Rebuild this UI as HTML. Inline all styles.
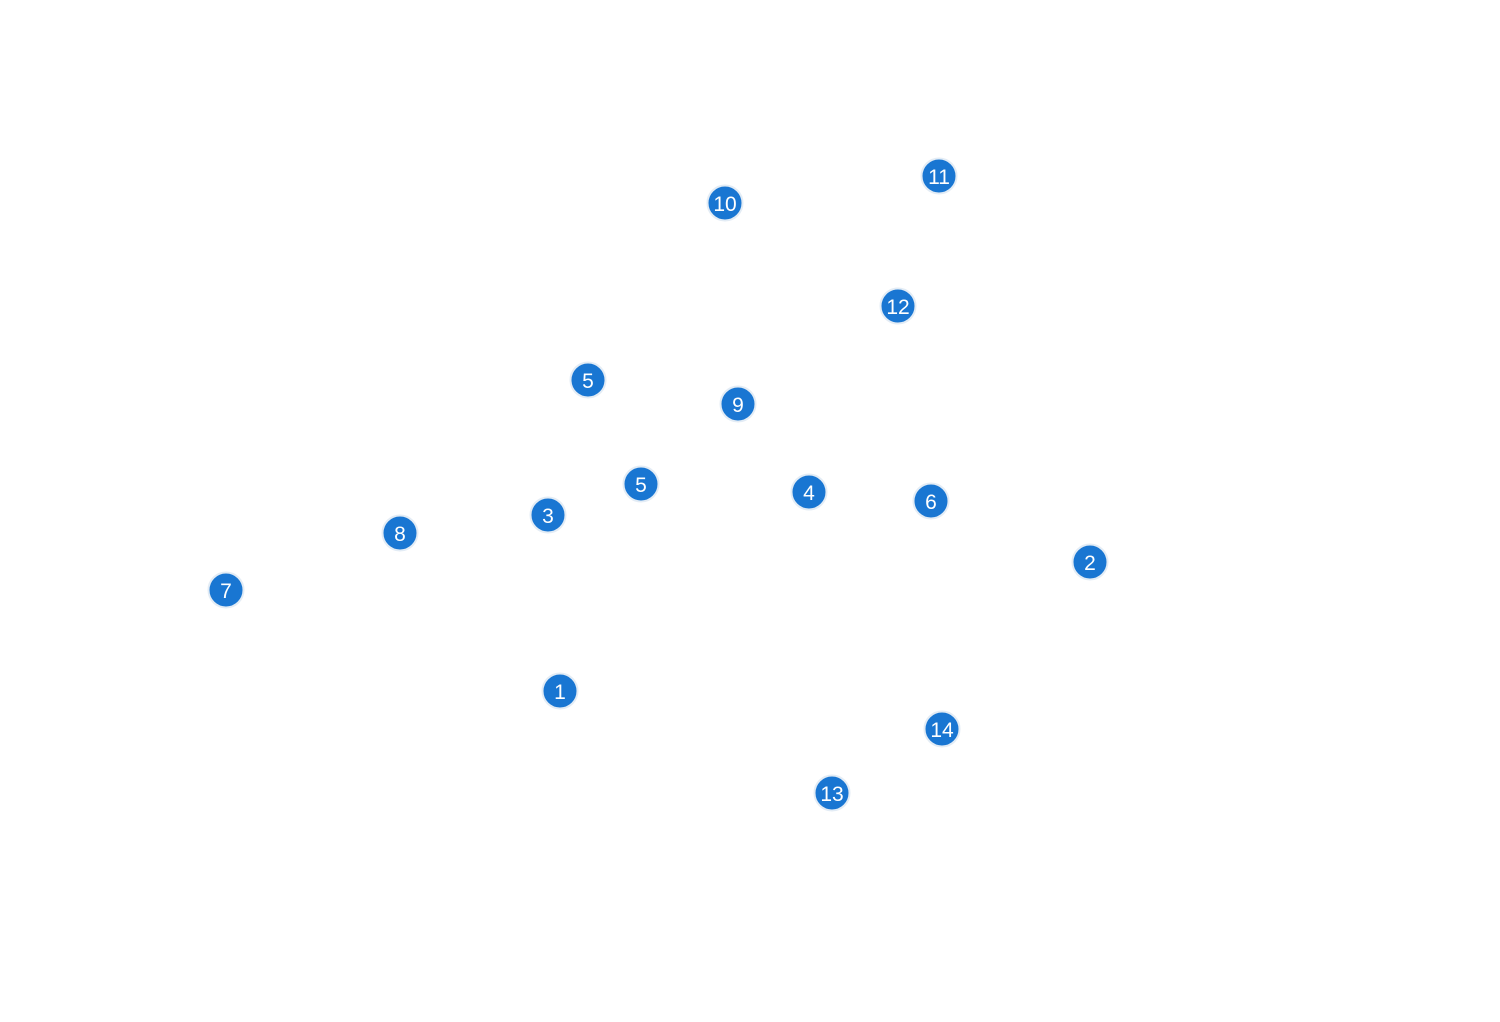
<!DOCTYPE html>
<html><head><style>html,body{margin:0;padding:0;background:#fff;}</style></head>
<body>
<svg width="1500" height="1022" xmlns="http://www.w3.org/2000/svg" style="display:block">
<g font-family="Liberation Sans, sans-serif" font-size="22" fill="#fff" text-anchor="middle">
<g id="n">
</g>
</g>
<g font-family="Liberation Sans, sans-serif" font-size="21" text-anchor="middle">
<!-- nodes -->
<g><circle cx="725" cy="203" r="17.5" fill="#1976d2" stroke="#e3ecf5" stroke-width="2"/><text x="725" y="211" fill="#fff">10</text></g>
<g><circle cx="939" cy="176" r="17.5" fill="#1976d2" stroke="#e3ecf5" stroke-width="2"/><text x="939" y="184" fill="#fff">11</text></g>
<g><circle cx="898" cy="306" r="17.5" fill="#1976d2" stroke="#e3ecf5" stroke-width="2"/><text x="898" y="314" fill="#fff">12</text></g>
<g><circle cx="588" cy="380" r="17.5" fill="#1976d2" stroke="#e3ecf5" stroke-width="2"/><text x="588" y="388" fill="#fff">5</text></g>
<g><circle cx="738" cy="404" r="17.5" fill="#1976d2" stroke="#e3ecf5" stroke-width="2"/><text x="738" y="412" fill="#fff">9</text></g>
<g><circle cx="641" cy="484" r="17.5" fill="#1976d2" stroke="#e3ecf5" stroke-width="2"/><text x="641" y="492" fill="#fff">5</text></g>
<g><circle cx="809" cy="492" r="17.5" fill="#1976d2" stroke="#e3ecf5" stroke-width="2"/><text x="809" y="500" fill="#fff">4</text></g>
<g><circle cx="931" cy="501" r="17.5" fill="#1976d2" stroke="#e3ecf5" stroke-width="2"/><text x="931" y="509" fill="#fff">6</text></g>
<g><circle cx="548" cy="515" r="17.5" fill="#1976d2" stroke="#e3ecf5" stroke-width="2"/><text x="548" y="523" fill="#fff">3</text></g>
<g><circle cx="400" cy="533" r="17.5" fill="#1976d2" stroke="#e3ecf5" stroke-width="2"/><text x="400" y="541" fill="#fff">8</text></g>
<g><circle cx="1090" cy="562" r="17.5" fill="#1976d2" stroke="#e3ecf5" stroke-width="2"/><text x="1090" y="570" fill="#fff">2</text></g>
<g><circle cx="226" cy="590" r="17.5" fill="#1976d2" stroke="#e3ecf5" stroke-width="2"/><text x="226" y="598" fill="#fff">7</text></g>
<g><circle cx="560" cy="691" r="17.5" fill="#1976d2" stroke="#e3ecf5" stroke-width="2"/><text x="560" y="699" fill="#fff">1</text></g>
<g><circle cx="942" cy="729" r="17.5" fill="#1976d2" stroke="#e3ecf5" stroke-width="2"/><text x="942" y="737" fill="#fff">14</text></g>
<g><circle cx="832" cy="793" r="17.5" fill="#1976d2" stroke="#e3ecf5" stroke-width="2"/><text x="832" y="801" fill="#fff">13</text></g>
</g>
</svg>
</body></html>
